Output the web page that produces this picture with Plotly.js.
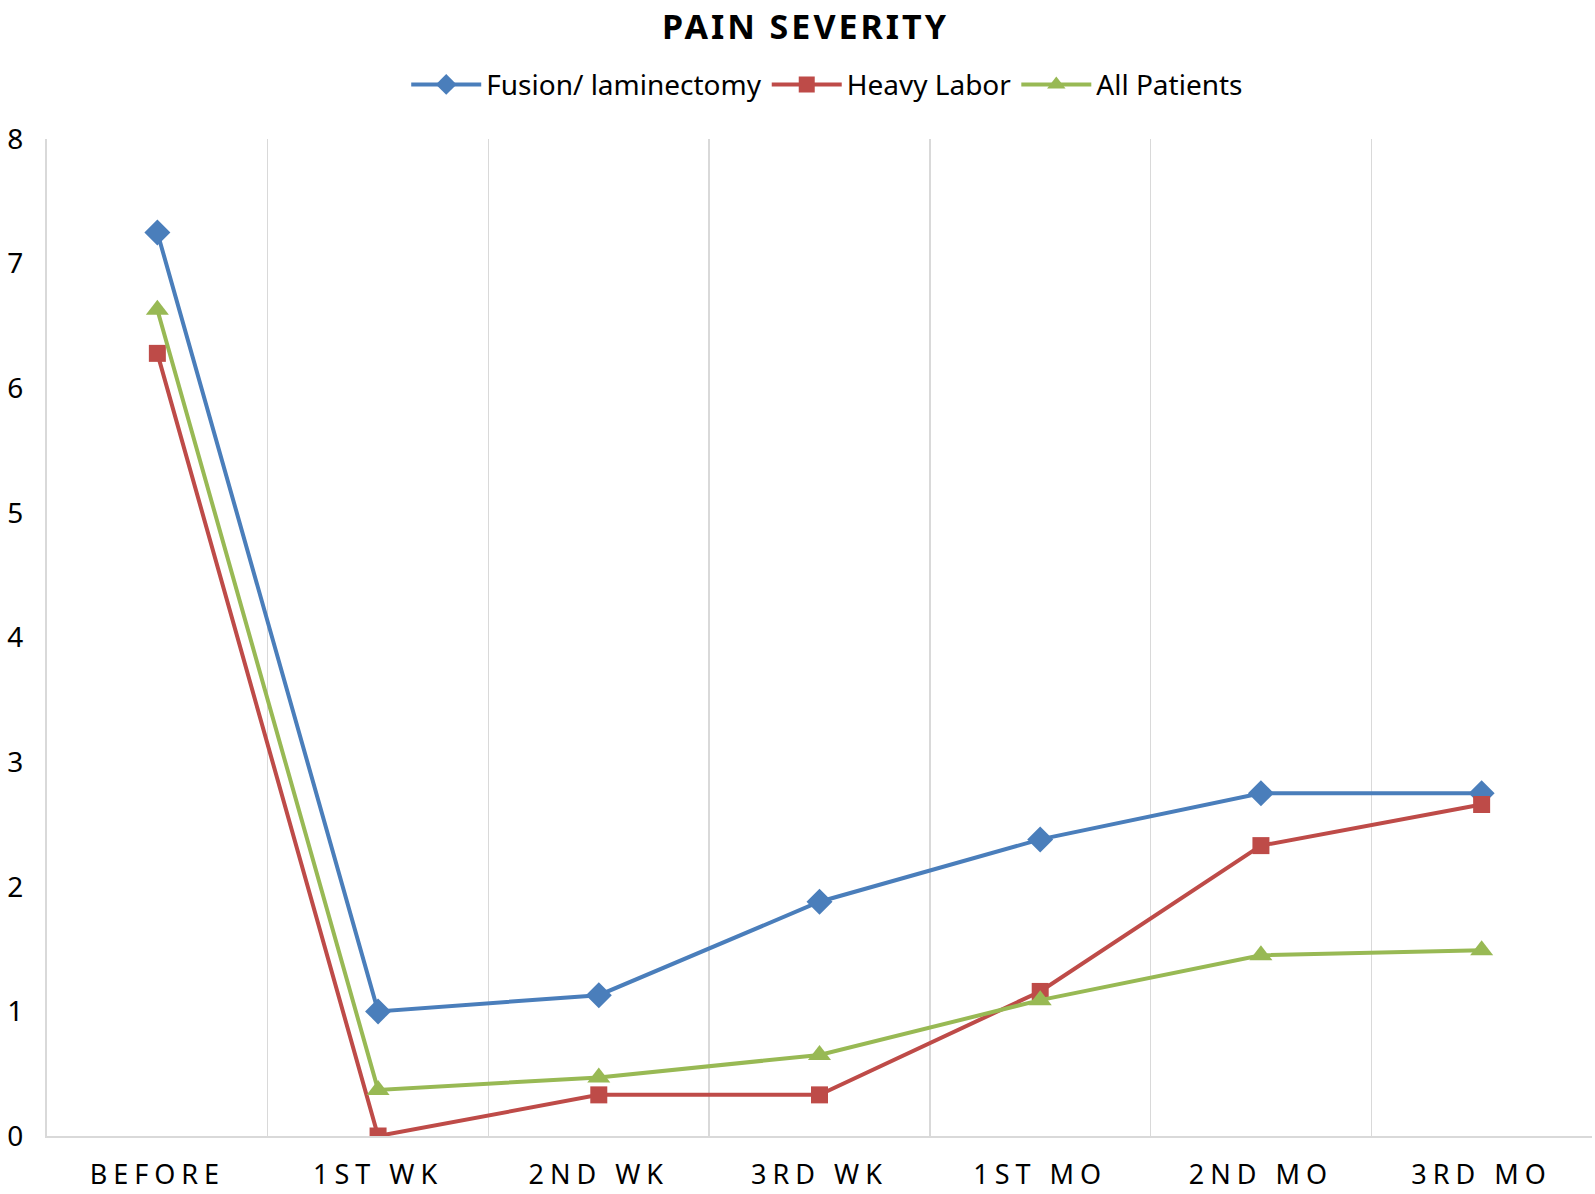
<!DOCTYPE html>
<html>
<head>
<meta charset="utf-8">
<script src="https://cdn.plot.ly/plotly-3.0.1.min.js"></script>
<style>
html,body{margin:0;padding:0;background:#fff;}
#chart{width:1595px;height:1194px;}
.xtick text{letter-spacing:6px;}
.gtitle{letter-spacing:3px;}
</style>
</head>
<body>
<div id="chart"></div>
<script>
const categories = ["BEFORE", "1ST WK", "2ND WK", "3RD WK", "1ST MO", "2ND MO", "3RD MO"];
const fusionLaminectomy = [7.25, 1.0, 1.13, 1.88, 2.38, 2.75, 2.75];
const heavyLabor = [6.28, 0.0, 0.33, 0.33, 1.16, 2.33, 2.66];
const allPatients = [6.63, 0.37, 0.47, 0.65, 1.09, 1.45, 1.49];
const yTicks = [0, 1, 2, 3, 4, 5, 6, 7, 8];

const fontFam = "'Noto Sans', 'Open Sans', sans-serif";

const traces = [
  {x: categories, y: fusionLaminectomy, name: "Fusion/ laminectomy", type: "scatter", mode: "lines+markers",
   line: {color: "#4a7ebb", width: 4}, marker: {symbol: "diamond", size: 20, color: "#4a7ebb"}},
  {x: categories, y: heavyLabor, name: "Heavy Labor", type: "scatter", mode: "lines+markers",
   line: {color: "#be4b48", width: 4}, marker: {symbol: "square", size: 17, color: "#be4b48"}},
  {x: categories, y: allPatients, name: "All Patients", type: "scatter", mode: "lines+markers",
   line: {color: "#98b954", width: 4}, marker: {symbol: "triangle-up", size: 20, color: "#98b954"}}
];

const layout = {
  width: 1595, height: 1194,
  margin: {l: 47, r: 3, t: 139, b: 58},
  paper_bgcolor: "#ffffff", plot_bgcolor: "#ffffff",
  font: {family: fontFam, color: "#000000"},
  title: {text: "PAIN SEVERITY", font: {size: 34, family: fontFam, color: "#000", weight: "bold"},
          x: 0.505, xanchor: "center", y: 0.977, yanchor: "middle", yref: "container"},
  showlegend: true,
  legend: {orientation: "h", x: 0.505, xanchor: "center", y: 0.929, yanchor: "middle", yref: "container",
           font: {size: 28, family: fontFam, color: "#000"}, itemwidth: 70, tracegroupgap: 0},
  xaxis: {type: "category", range: [-0.5, 6.5], tickson: "boundaries", showgrid: true, gridcolor: "#d9d9d9", gridwidth: 1.5,
          showline: true, linecolor: "#d9d9d9", linewidth: 2, ticks: "", zeroline: false,
          tickfont: {size: 27, family: fontFam, color: "#000"}, ticklabelstandoff: 14},
  yaxis: {range: [0, 8], tickvals: yTicks, showgrid: false, showline: true, linecolor: "#d9d9d9", linewidth: 2,
          ticks: "", zeroline: false, tickfont: {size: 28, family: fontFam, color: "#000"}, ticklabelstandoff: 16}
};

Plotly.newPlot("chart", traces, layout, {displayModeBar: false, staticPlot: true});
</script>
</body>
</html>
